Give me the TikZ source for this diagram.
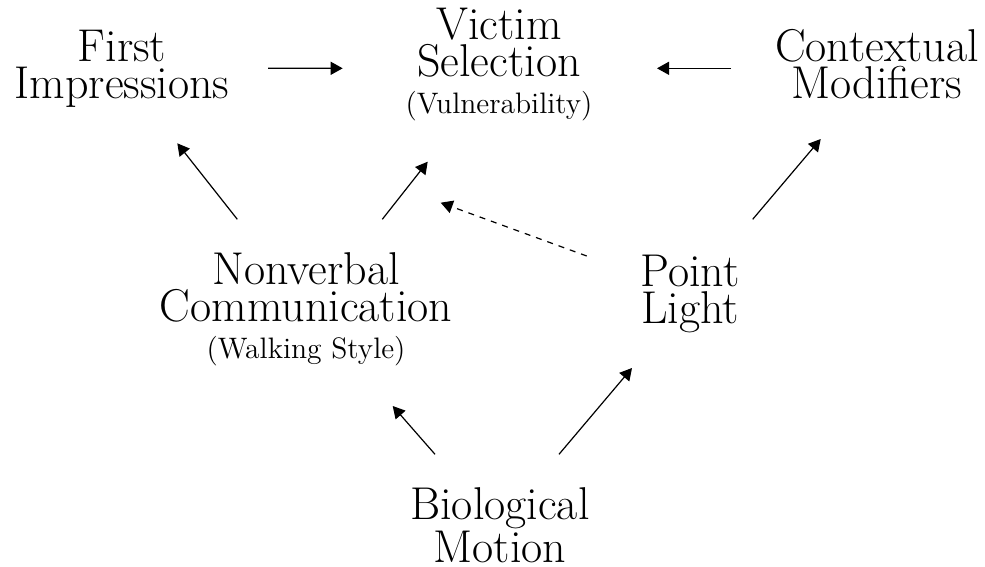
\documentclass[tikz,border=0pt]{standalone}
\usepackage{fontspec}
\usetikzlibrary{arrows.meta}
\begin{document}
\begin{tikzpicture}[x=0.5pt,y=-0.5pt,
  lbl/.style={align=center,inner sep=0pt,anchor=base,font=\fontsize{23}{18.4}\selectfont},
  arr/.style={line width=0.6pt,-{Triangle[length=6pt,width=6.5pt]}},
  dasharr/.style={arr,dashed}]
\useasboundingbox (0,0) rectangle (985,567);
\newcommand{\smalltext}[1]{{\fontsize{14.8}{18.4}\selectfont #1}}
\node[lbl] (fi) at (122,98) {First\\Impressions};
\node[lbl] (vs) at (499,113.3) {Victim\\Selection\\\smalltext{(Vulnerability)}};
\node[lbl] (cm) at (877,98.3) {Contextual\\Modifiers};
\node[lbl] (nv) at (306,358) {Nonverbal\\Communication\\\smalltext{(Walking Style)}};
\node[lbl] (pl) at (690,323.3) {Point\\Light};
\node[lbl] (bm) at (500,562) {Biological\\Motion};
\draw[arr] ([shift={(146,-29.7)}]fi.base) -- ([shift={(-156.3,-45)}]vs.base);
\draw[arr] ([shift={(-146,-30)}]cm.base) -- ([shift={(158,-45)}]vs.base);
\draw[arr] ([shift={(-68.7,-138.7)}]nv.base) -- ([shift={(55.3,45.3)}]fi.base);
\draw[arr] ([shift={(76.3,-138.7)}]nv.base) -- ([shift={(-71.3,48.4)}]vs.base);
\draw[dasharr] ([shift={(-103.3,-67.3)}]pl.base) -- ([shift={(-58.3,89.4)}]vs.base);
\draw[arr] ([shift={(62.7,-104)}]pl.base) -- ([shift={(-56.3,40.7)}]cm.base);
\draw[arr] ([shift={(-65,-107.7)}]bm.base) -- ([shift={(86.7,48)}]nv.base);
\draw[arr] ([shift={(59,-107.7)}]bm.base) -- ([shift={(-58,44.7)}]pl.base);
\end{tikzpicture}
\end{document}
